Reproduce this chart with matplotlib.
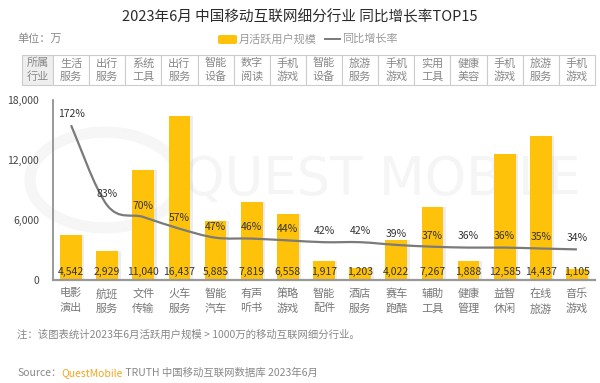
import numpy as np
import matplotlib
matplotlib.use("Agg")
import matplotlib.pyplot as plt
from matplotlib.path import Path
from matplotlib.patches import PathPatch, Rectangle, Circle, FancyBboxPatch
from matplotlib.transforms import blended_transform_factory

plt.rcParams['font.family'] = ['Noto Sans CJK SC', 'DejaVu Sans']

# data
categories = ['电影\n演出', '航班\n服务', '文件\n传输', '火车\n服务', '智能\n汽车', '有声\n听书', '策略\n游戏',
              '智能\n配件', '酒店\n服务', '赛车\n跑酷', '辅助\n工具', '健康\n管理', '益智\n休闲', '在线\n旅游', '音乐\n游戏']
industries = ['生活\n服务', '出行\n服务', '系统\n工具', '出行\n服务', '智能\n设备', '数字\n阅读', '手机\n游戏',
              '智能\n设备', '旅游\n服务', '手机\n游戏', '实用\n工具', '健康\n美容', '手机\n游戏', '旅游\n服务', '手机\n游戏']
mau = [4542, 2929, 11040, 16437, 5885, 7819, 6558, 1917, 1203, 4022, 7267, 1888, 12585, 14437, 1105]
growth = [172, 83, 70, 57, 47, 46, 44, 42, 42, 39, 37, 36, 36, 35, 34]
yticks = [0, 6000, 12000, 18000]

bar_color = '#FFC20A'
line_color = '#7a7a7a'

fig = plt.figure(figsize=(6, 3.83), dpi=100)
W, H = 600, 383

def fx(px):
    return px / W

def fy(py):
    return 1 - py / H

# faint watermark, behind everything
fig.patches.append(Circle((fx(105), fy(180)), 75 / W, transform=fig.transFigure,
                          fill=False, ec='#f6f6f6', lw=8, zorder=-5))
fig.text(fx(183), fy(180), 'QUEST MOBILE', fontsize=38, color='#f5f5f5',
         family='DejaVu Sans', va='center', ha='left', zorder=-5)

ax = fig.add_axes([fx(53), 1 - 280 / H, 542 / W, 180 / H])
ax.patch.set_alpha(0)
x = np.arange(len(mau))

# shadow + bars
ax.bar(x + 0.07, mau, width=0.6, color='#000000', alpha=0.07, zorder=1)
ax.bar(x, mau, width=0.6, color=bar_color, zorder=2)

ax.set_xlim(-0.5, len(mau) - 0.5)
ax.set_ylim(0, 18000)
ax.set_yticks(yticks)
ax.set_yticklabels([f'{v:,}' for v in yticks], fontsize=7.5, color='#444444')
ax.set_xticks(x)
ax.set_xticklabels(categories, fontsize=8, color='#777777', linespacing=1.55)
ax.tick_params(length=0)
ax.tick_params(axis='x', pad=6)
ax.tick_params(axis='y', pad=10)
for s in ['top', 'right']:
    ax.spines[s].set_visible(False)
ax.spines['left'].set_color('#888888')
ax.spines['left'].set_linewidth(1.2)
ax.spines['bottom'].set_color('#999999')
ax.spines['bottom'].set_linewidth(1.6)

for i, v in enumerate(mau):
    ax.annotate(f'{v:,}', (i, 0), xytext=(0, 6), textcoords='offset points',
                ha='center', va='center', fontsize=7.5, color='#333333', zorder=5)

# growth line (smooth)
ax2 = ax.twinx()
ax2.set_ylim(0, 200)
ax2.axis('off')
pts = np.column_stack([x, growth]).astype(float)
ext = np.vstack([pts[0], pts, pts[-1]])
verts = [tuple(pts[0])]
codes = [Path.MOVETO]
for i in range(len(pts) - 1):
    p0, p1, p2, p3 = ext[i], ext[i + 1], ext[i + 2], ext[i + 3]
    c1 = p1 + (p2 - p0) / 6
    c2 = p2 - (p3 - p1) / 6
    verts += [tuple(c1), tuple(c2), tuple(p2)]
    codes += [Path.CURVE4] * 3
ax2.add_patch(PathPatch(Path(verts, codes), fill=False, ec=line_color, lw=1.6, zorder=3))
for i, g in enumerate(growth):
    ax2.annotate(f'{g}%', (i, g), xytext=(0, 8), textcoords='offset points',
                 ha='center', va='center', fontsize=7.5, color='#333333')

# title, unit, legend
fig.text(0.5, fy(17), '2023年6月 中国移动互联网细分行业 同比增长率TOP15', ha='center', va='center',
         fontsize=10.5, color='#2a2a2a')
fig.text(fx(17), fy(39), '单位：万', ha='left', va='center', fontsize=8, color='#888888')
fig.patches.append(FancyBboxPatch((fx(218), fy(44)), 19 / W, 9 / H, boxstyle='round,pad=0,rounding_size=0.004',
                                  transform=fig.transFigure, fc=bar_color, ec='none'))
fig.text(fx(239), fy(39), '月活跃用户规模', ha='left', va='center', fontsize=8, color='#999999')
fig.lines.append(plt.Line2D([fx(325), fx(340)], [fy(39), fy(39)], transform=fig.transFigure,
                            color=line_color, lw=1.4))
fig.text(fx(342), fy(39), '同比增长率', ha='left', va='center', fontsize=8, color='#999999')

# industry table above the chart
tr = blended_transform_factory(ax.transData, fig.transFigure)
top, bot = fy(55), fy(85)
hdr_left = -0.5 - 31 / (542 / 15)
fig.patches.append(Rectangle((hdr_left, bot), -0.5 - hdr_left, top - bot, transform=tr,
                             fc='#eeeeee', ec='#cccccc', lw=0.8))
fig.text((hdr_left - 0.5) / 2, (top + bot) / 2, '所属\n行业', transform=tr, ha='center', va='center',
         fontsize=8, color='#888888', linespacing=1.35)
for i, ind in enumerate(industries):
    fig.patches.append(Rectangle((i - 0.5, bot), 1, top - bot, transform=tr,
                                 fc='white', ec='#cccccc', lw=0.8))
    fig.text(i, (top + bot) / 2, ind, transform=tr, ha='center', va='center',
             fontsize=8, color='#888888', linespacing=1.35)

# notes
fig.text(fx(17), fy(335), '注：该图表统计2023年6月活跃用户规模 > 1000万的移动互联网细分行业。',
         ha='left', va='center', fontsize=7.5, color='#888888')
t1 = fig.text(fx(17), fy(373), 'Source：', ha='left', va='center', fontsize=7.5, color='#888888')
fig.canvas.draw()
r = fig.canvas.get_renderer()
bb = t1.get_window_extent(r)
t2 = fig.text(bb.x1 / W, fy(373), 'QuestMobile', ha='left', va='center', fontsize=7.5, color='#F5A623')
bb2 = t2.get_window_extent(r)
fig.text(bb2.x1 / W, fy(373), ' TRUTH 中国移动互联网数据库 2023年6月', ha='left', va='center',
         fontsize=7.5, color='#888888')

fig.savefig('out.png', dpi=100)
